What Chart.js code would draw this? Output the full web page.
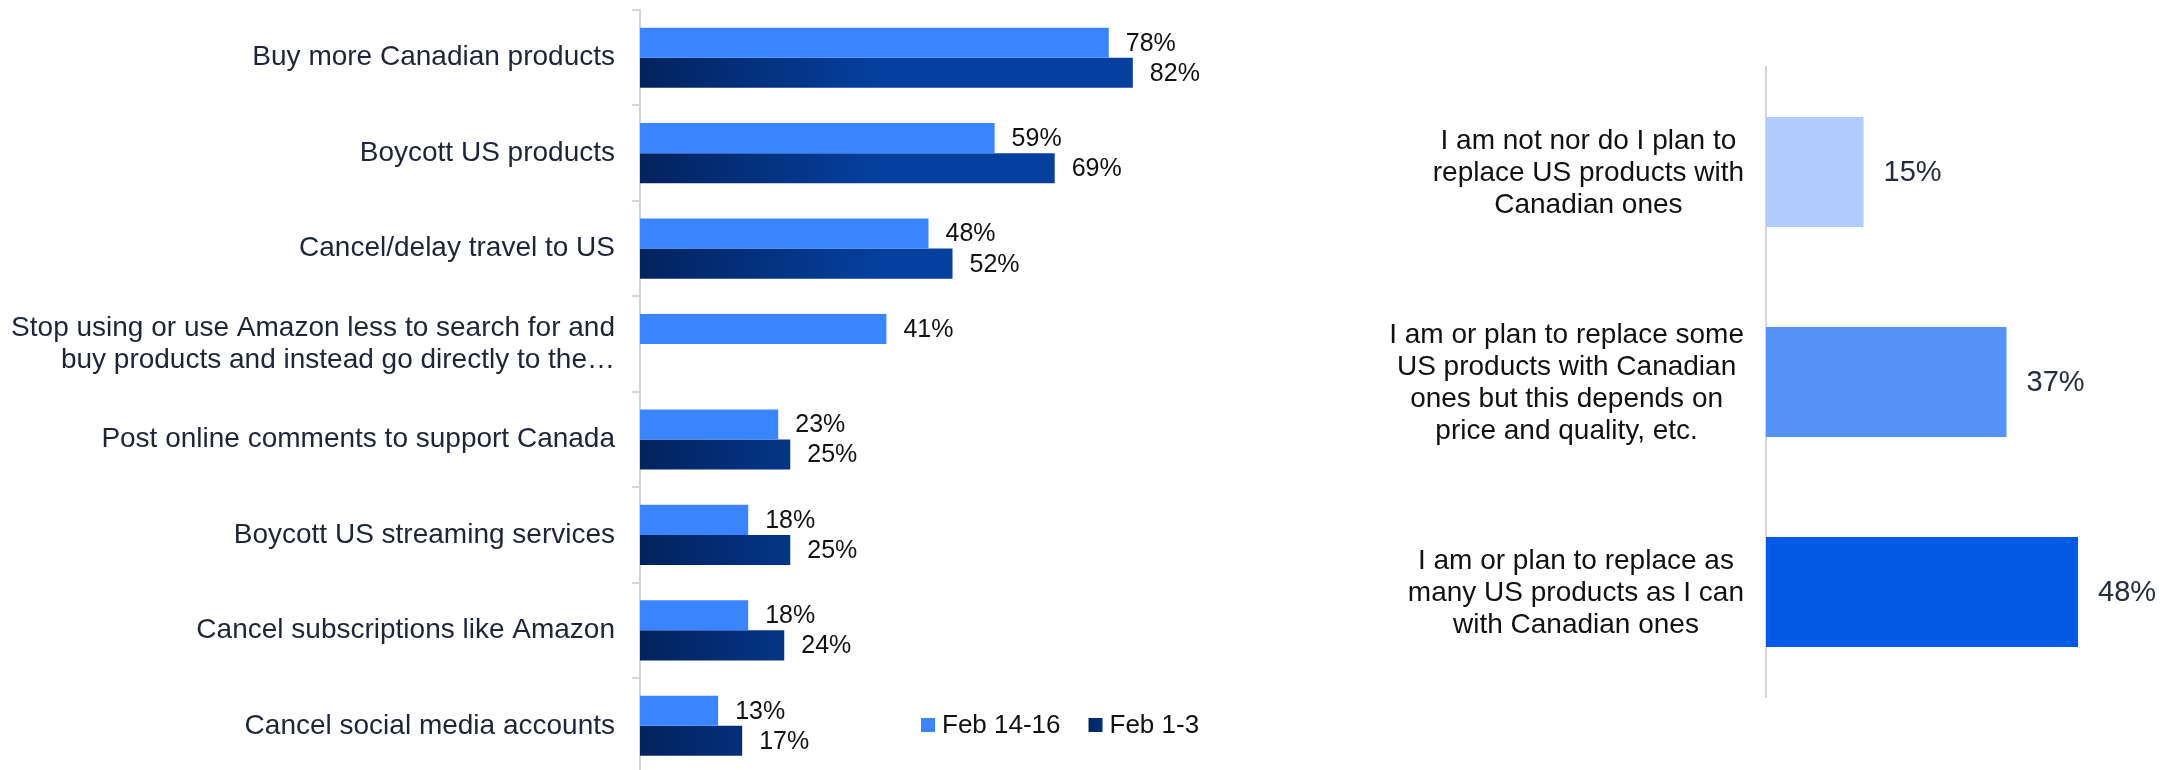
<!DOCTYPE html>
<html>
<head>
<meta charset="utf-8">
<script src="https://cdn.jsdelivr.net/npm/chart.js@4.4.1/dist/chart.umd.min.js"></script>
<style>
  html, body { margin: 0; padding: 0; background: #ffffff; overflow: hidden; width: 2177px; height: 770px; }
  #left { position: absolute; left: 0; top: 0; }
  #right { position: absolute; left: 1300px; top: 0; }
</style>
</head>
<body>
<canvas id="left" width="1300" height="784"></canvas>
<canvas id="right" width="877" height="770"></canvas>
<script>
// ---------- DATA ----------
const actionCategories = [
  "Buy more Canadian products",
  "Boycott US products",
  "Cancel/delay travel to US",
  ["Stop using or use Amazon less to search for and", "buy products and instead go directly to the\u2026"],
  "Post online comments to support Canada",
  "Boycott US streaming services",
  "Cancel subscriptions like Amazon",
  "Cancel social media accounts"
];
const seriesFeb14 = [78, 59, 48, 41, 23, 18, 18, 13];
const seriesFeb1 = [82, 69, 52, null, 25, 25, 24, 17];
const seriesNames = ["Feb 14-16", "Feb 1-3"];

const replaceCategories = [
  ["I am not nor do I plan to", "replace US products with", "Canadian ones"],
  ["I am or plan to replace some", "US products with Canadian", "ones but this depends on", "price and quality, etc."],
  ["I am or plan to replace as", "many US products as I can", "with Canadian ones"]
];
const replaceValues = [15, 37, 48];

// ---------- STYLE ----------
const FONT = "'Liberation Sans', Arial, Helvetica, sans-serif";
const LIGHT = '#3a84ff';
const DARK_L = '#02235e';
const DARK_R = '#05409f';
const AXIS_COLOR = '#d6d6d6';

function darkGradient(ctx, x0, x1) {
  const g = ctx.createLinearGradient(x0, 0, x1, 0);
  g.addColorStop(0, DARK_L);
  g.addColorStop(1, DARK_R);
  return g;
}

const valueLabels = {
  id: 'valueLabels',
  afterDatasetsDraw(chart, args, opts) {
    const ctx = chart.ctx;
    ctx.save();
    ctx.font = opts.font;
    ctx.fillStyle = opts.color;
    ctx.textAlign = 'left';
    ctx.textBaseline = 'middle';
    chart.data.datasets.forEach((ds, di) => {
      const meta = chart.getDatasetMeta(di);
      meta.data.forEach((bar, i) => {
        const v = ds.data[i];
        if (v === null || v === undefined) return;
        ctx.fillText(v + '%', bar.x + opts.offset, bar.y + (opts.dy || 0));
      });
    });
    ctx.restore();
  }
};

const cornerLegend = {
  id: 'cornerLegend',
  afterDraw(chart, args, opts) {
    const ctx = chart.ctx;
    ctx.save();
    ctx.font = opts.font;
    ctx.textBaseline = 'middle';
    ctx.textAlign = 'left';
    let x = opts.x;
    const y = opts.y;
    const box = opts.box;
    chart.data.datasets.forEach((ds, di) => {
      if (di === 0) ctx.fillStyle = LIGHT;
      else ctx.fillStyle = darkGradient(ctx, x, x + box * 2);
      ctx.fillRect(x, y - box / 2, box, box);
      ctx.fillStyle = opts.color;
      ctx.fillText(ds.label, x + box + 7, y + 1);
      x += box + 7 + ctx.measureText(ds.label).width + opts.gap;
    });
    ctx.restore();
  }
};

// Category labels centred on their own widest line (right chart)
const centredLabels = {
  id: 'centredLabels',
  afterDraw(chart, args, opts) {
    const ctx = chart.ctx;
    const scale = chart.scales.y;
    ctx.save();
    ctx.font = opts.font;
    ctx.fillStyle = opts.color;
    ctx.textAlign = 'center';
    ctx.textBaseline = 'middle';
    chart.data.labels.forEach((lab, i) => {
      const lines = Array.isArray(lab) ? lab : [lab];
      const widest = Math.max(...lines.map(l => ctx.measureText(l).width));
      const cx = chart.chartArea.left - opts.padding - widest / 2;
      const cy = scale.getPixelForTick(i);
      const top = cy - (lines.length - 1) * opts.lineHeight / 2;
      lines.forEach((l, k) => ctx.fillText(l, cx, top + k * opts.lineHeight + 1));
    });
    ctx.restore();
  }
};

// ---------- LEFT CHART ----------
new Chart(document.getElementById('left'), {
  type: 'bar',
  data: {
    labels: actionCategories,
    datasets: [
      { label: seriesNames[0], data: seriesFeb14, backgroundColor: LIGHT },
      { label: seriesNames[1], data: seriesFeb1,
        backgroundColor: (c) => {
          const ca = c.chart.chartArea;
          if (!ca) return DARK_R;
          return darkGradient(c.chart.ctx, ca.left, ca.left + 240);
        } }
    ]
  },
  options: {
    indexAxis: 'y',
    responsive: false,
    animation: false,
    devicePixelRatio: 1,
    categoryPercentage: 0.63,
    barPercentage: 1.0,
    layout: { padding: { top: 10, bottom: 10.5, left: 0, right: 59 } },
    scales: {
      x: { display: false, min: 0, max: 100 },
      y: {
        afterFit: (s) => { s.width = 640; s.paddingTop = 0; s.paddingBottom = 0; },
        grid: { display: true, drawOnChartArea: false, tickLength: 8, color: AXIS_COLOR, lineWidth: 2, offset: true },
        border: { display: true, color: AXIS_COLOR, width: 2 },
        ticks: { padding: 17, color: '#1f2538', font: { family: FONT, size: 28, lineHeight: 1.14 } }
      }
    },
    plugins: {
      legend: { display: false },
      tooltip: { enabled: false },
      valueLabels: { font: '25px ' + FONT, color: '#111111', offset: 17, dy: 1 },
      cornerLegend: { x: 921, y: 725, box: 14, gap: 28, font: '26px ' + FONT, color: '#111111' }
    }
  },
  plugins: [valueLabels, cornerLegend]
});

// ---------- RIGHT CHART ----------
new Chart(document.getElementById('right'), {
  type: 'bar',
  data: {
    labels: replaceCategories,
    datasets: [
      { label: 'share', data: replaceValues, backgroundColor: ['#b0ccff', '#5593fb', '#025ae5'] }
    ]
  },
  options: {
    indexAxis: 'y',
    responsive: false,
    animation: false,
    devicePixelRatio: 1,
    categoryPercentage: 1.0,
    barPercentage: 0.524,
    layout: { padding: { top: 67, bottom: 73, left: 0, right: 21 } },
    scales: {
      x: { display: false, min: 0, max: 60 },
      y: {
        afterFit: (s) => { s.width = 466; s.paddingTop = 0; s.paddingBottom = 0; },
        grid: { display: false },
        border: { display: true, color: AXIS_COLOR, width: 2 },
        ticks: { display: false }
      }
    },
    plugins: {
      legend: { display: false },
      tooltip: { enabled: false },
      valueLabels: { font: '29px ' + FONT, color: '#262c3e', offset: 20, dy: 1 },
      centredLabels: { font: '28px ' + FONT, color: '#111111', padding: 22, lineHeight: 32 }
    }
  },
  plugins: [valueLabels, centredLabels]
});
</script>
</body>
</html>
